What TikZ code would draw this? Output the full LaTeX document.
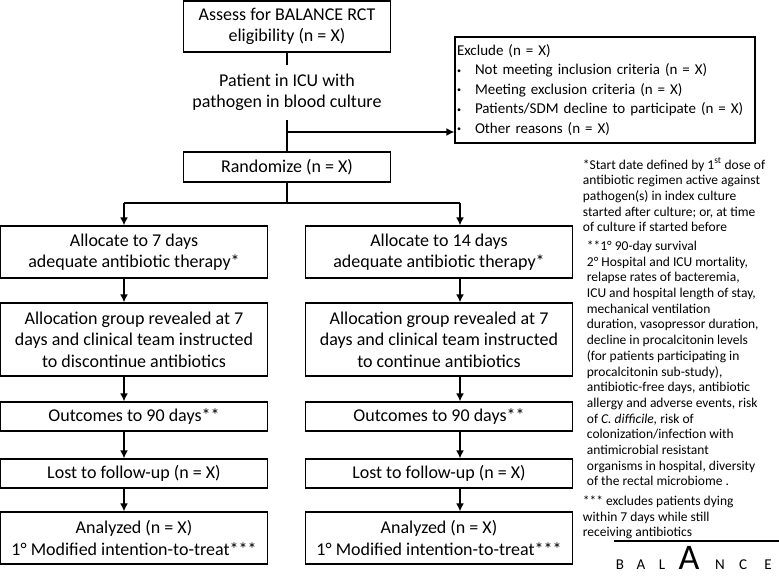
\documentclass[tikz,border=0pt]{standalone}
\usepackage{fontspec}
\setmainfont{Carlito}
\usetikzlibrary{arrows.meta}

\begin{document}
\begin{tikzpicture}[x=1pt,y=-1pt,line width=1.8pt,
  box/.style={draw=black, line width=1.2pt, inner sep=0pt, align=center, font=\fontsize{18}{21.5}\selectfont},
  note/.style={anchor=north west, inner sep=0pt, align=left, font=\fontsize{13.5}{15.7}\selectfont},
  logo/.style={anchor=base, inner sep=0pt, font=\fontsize{15}{15}\selectfont},
  arr/.style={-{Latex[length=8pt,width=8pt]}},]
  \useasboundingbox (0,0) rectangle (779,578);

  \node[box, minimum width=207pt, minimum height=51pt] (A) at (287,26.5) {Assess for BALANCE RCT\\eligibility (n = X)};
  \node[inner sep=0pt, align=center, minimum height=53pt, font=\fontsize{18}{21.5}\selectfont] (P) at (287,92.5) {Patient in ICU with\\pathogen in blood culture};
  \node[box, minimum width=207pt, minimum height=30pt] (R) at (287,167) {Randomize (n = X)};
  \node[box, minimum width=300pt, minimum height=106pt, text width=296pt, align=left, font=\fontsize{15}{19.5}\selectfont] (X) at (605,90)
    {Exclude (n = X)\\
     \makebox[18pt][l]{\raisebox{1.5pt}{\fontsize{8}{8}\selectfont •}}Not meeting inclusion criteria (n = X)\\
     \makebox[18pt][l]{\raisebox{1.5pt}{\fontsize{8}{8}\selectfont •}}Meeting exclusion criteria (n = X)\\
     \makebox[18pt][l]{\raisebox{1.5pt}{\fontsize{8}{8}\selectfont •}}Patients/SDM decline to participate (n = X)\\
     \makebox[18pt][l]{\raisebox{1.5pt}{\fontsize{8}{8}\selectfont •}}Other reasons (n = X)};

  % 7 days
  \node[box, minimum width=267pt, minimum height=52pt] (a1) at (134,252) {Allocate to 7 days\\adequate antibiotic therapy*};
  \node[box, minimum width=267pt, minimum height=73pt] (a2) at (134,339.5) {Allocation group revealed at 7\\days and clinical team instructed\\to discontinue antibiotics};
  \node[box, minimum width=267pt, minimum height=29pt] (a3) at (134,416.5) {Outcomes to 90 days**};
  \node[box, minimum width=267pt, minimum height=29pt] (a4) at (134,473.5) {Lost to follow-up (n = X)};
  \node[box, minimum width=267pt, minimum height=52pt] (a5) at (134,538) {Analyzed (n = X)\\1° Modified intention-to-treat***};

  % 14 days
  \node[box, minimum width=267pt, minimum height=52pt] (b1) at (439,252) {Allocate to 14 days\\adequate antibiotic therapy*};
  \node[box, minimum width=267pt, minimum height=73pt] (b2) at (439,339.5) {Allocation group revealed at 7\\days and clinical team instructed\\to continue antibiotics};
  \node[box, minimum width=267pt, minimum height=29pt] (b3) at (439,416.5) {Outcomes to 90 days**};
  \node[box, minimum width=267pt, minimum height=29pt] (b4) at (439,473.5) {Lost to follow-up (n = X)};
  \node[box, minimum width=267pt, minimum height=52pt] (b5) at (439,538) {Analyzed (n = X)\\1° Modified intention-to-treat***};

  \coordinate (e) at (287,132);
  \coordinate (s) at (287,203);
  \coordinate (sl) at (124,203);
  \coordinate (sr) at (460,203);

  \draw (A) -- (P)
        (P) -- (R)
        (R) -- (s)
        (sl) -- (sr);
  \draw[arr] (e) -- (e -| X.west);
  \draw[arr] (sl) -- (sl |- a1.north);
  \draw[arr] (sr) -- (sr |- b1.north);

  \draw[arr] (sl |- a1.south) -- (sl |- a2.north);
  \draw[arr] (sl |- a2.south) -- (sl |- a3.north);
  \draw[arr] (sl |- a3.south) -- (sl |- a4.north);
  \draw[arr] (sl |- a4.south) -- (sl |- a5.north);

  \draw[arr] (sr |- b1.south) -- (sr |- b2.north);
  \draw[arr] (sr |- b2.south) -- (sr |- b3.north);
  \draw[arr] (sr |- b3.south) -- (sr |- b4.north);
  \draw[arr] (sr |- b4.south) -- (sr |- b5.north);

  % footnotes
  \node[note] (n1) at (582,157) {*Start date defined by 1\textsuperscript{st} dose of\\antibiotic regimen active against\\pathogen(s) in index culture\\started after culture; or, at time\\of culture if started before};
  \node[note] (n2) at (586,240) {**1° 90-day survival\\2° Hospital and ICU mortality,\\relapse rates of bacteremia,\\ICU and hospital length of stay,\\mechanical ventilation\\duration, vasopressor duration,\\decline in procalcitonin levels\\(for patients participating in\\procalcitonin sub-study),\\antibiotic-free days, antibiotic\\allergy and adverse events, risk\\of \textit{C. difficile,} risk of\\colonization/infection with\\antimicrobial resistant\\organisms in hospital, diversity\\of the rectal microbiome .};
  \node[note] (n3) at (582,495) {*** excludes patients dying\\within 7 days while still\\receiving antibiotics};

  % logo
  \coordinate (l1) at (614,541);
  \coordinate (l2) at (779,541);
  \draw[line width=1.2pt] (l1) -- (l2);
  \node[logo] (L1) at (620,569) {B};
  \node[logo] (L2) at (641,569) {A};
  \node[logo] (L3) at (662,569) {L};
  \node[logo, font=\fontsize{36}{36}\selectfont] (L4) at (689,569) {A};
  \node[logo] (L5) at (720,569) {N};
  \node[logo] (L6) at (743,569) {C};
  \node[logo] (L7) at (768,569) {E};
\end{tikzpicture}
\end{document}
